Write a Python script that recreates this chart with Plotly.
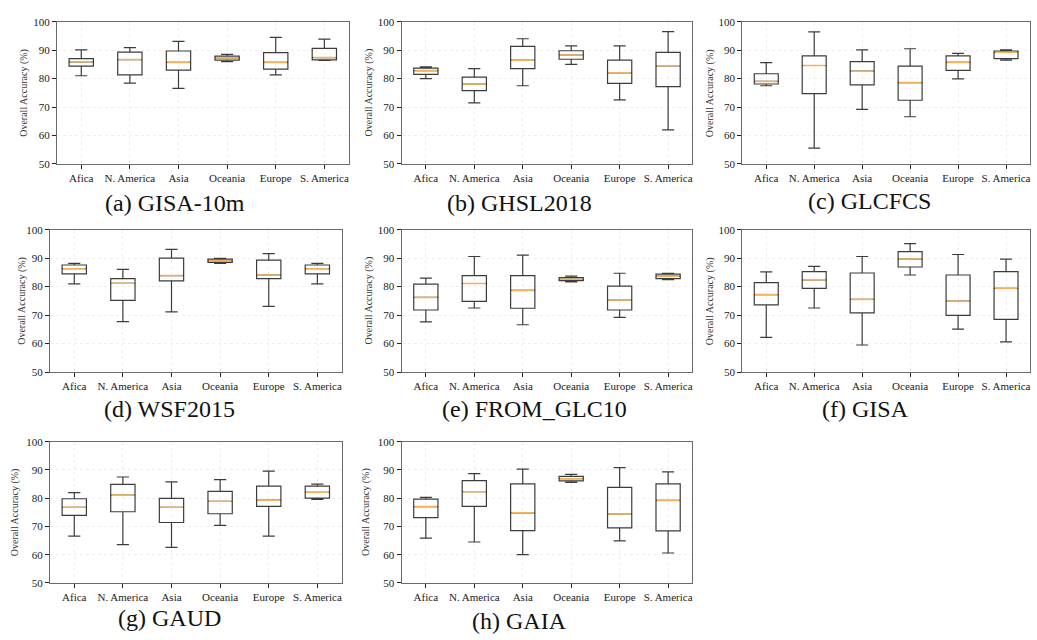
import plotly.graph_objects as go

CATEGORIES = ["Afica", "N. America", "Asia", "Oceania", "Europe", "S. America"]
Y_TICKS = [50, 60, 70, 80, 90, 100]
Y_LABEL = "Overall Accuracy (%)"

# (a) GISA-10m
A_LOW = [81.0, 78.4, 76.6, 86.0, 81.3, 86.4]
A_Q1 = [84.4, 81.3, 83.0, 86.5, 83.3, 86.6]
A_MED = [85.9, 86.7, 85.7, 87.3, 85.7, 87.4]
A_Q3 = [87.0, 89.3, 89.7, 87.9, 89.1, 90.6]
A_UP = [90.1, 90.9, 93.1, 88.5, 94.5, 93.9]

# (b) GHSL2018
B_LOW = [80.0, 71.5, 77.5, 85.0, 72.5, 62.0]
B_Q1 = [81.5, 75.8, 83.5, 86.8, 78.3, 77.2]
B_MED = [82.8, 78.1, 86.5, 88.3, 82.0, 84.5]
B_Q3 = [83.7, 80.5, 91.3, 89.8, 86.5, 89.2]
B_UP = [84.1, 83.5, 94.0, 91.5, 91.5, 96.5]

# (c) GLCFCS
C_LOW = [77.5, 55.6, 69.2, 66.6, 79.9, 86.5]
C_Q1 = [78.1, 74.7, 77.8, 72.4, 82.9, 87.0]
C_MED = [79.0, 84.6, 82.6, 78.6, 85.7, 89.3]
C_Q3 = [81.7, 88.0, 86.0, 84.4, 88.0, 89.7]
C_UP = [85.6, 96.4, 90.1, 90.5, 88.9, 90.1]

# (d) WSF2015
D_LOW = [81.0, 67.7, 71.1, 88.2, 73.1, 81.0]
D_Q1 = [84.5, 75.2, 82.0, 88.5, 82.8, 84.5]
D_MED = [86.3, 81.2, 83.9, 89.1, 84.1, 86.3]
D_Q3 = [87.6, 82.8, 90.0, 89.7, 89.3, 87.6]
D_UP = [88.2, 86.1, 93.1, 89.9, 91.6, 88.2]

# (e) FROM_GLC10
E_LOW = [67.6, 72.5, 66.6, 81.7, 69.2, 82.5]
E_Q1 = [71.8, 74.8, 72.4, 82.1, 71.8, 82.8]
E_MED = [76.2, 81.1, 78.7, 82.6, 75.3, 83.7]
E_Q3 = [80.9, 83.9, 83.9, 83.2, 80.2, 84.4]
E_UP = [83.0, 90.6, 91.1, 83.7, 84.7, 84.7]

# (f) GISA
F_LOW = [62.2, 72.5, 59.5, 84.1, 65.1, 60.6]
F_Q1 = [73.6, 79.4, 70.8, 86.9, 69.9, 68.5]
F_MED = [77.2, 82.4, 75.5, 89.7, 74.9, 79.4]
F_Q3 = [81.4, 85.3, 84.8, 92.3, 84.1, 85.3]
F_UP = [85.2, 87.1, 90.6, 95.1, 91.3, 89.7]

# (g) GAUD
G_LOW = [66.6, 63.6, 62.6, 70.4, 66.6, 79.6]
G_Q1 = [73.9, 75.2, 71.4, 74.5, 77.1, 80.0]
G_MED = [76.8, 81.1, 76.8, 78.9, 79.3, 82.1]
G_Q3 = [79.8, 84.9, 79.9, 82.4, 84.3, 84.3]
G_UP = [82.0, 87.5, 85.8, 86.6, 89.6, 85.0]

# (h) GAIA
H_LOW = [65.9, 64.5, 60.0, 85.6, 64.9, 60.6]
H_Q1 = [73.1, 77.1, 68.5, 86.1, 69.5, 68.4]
H_MED = [77.0, 82.3, 74.8, 86.9, 74.4, 79.2]
H_Q3 = [79.7, 86.2, 85.1, 87.7, 83.8, 85.1]
H_UP = [80.3, 88.7, 90.3, 88.4, 90.8, 89.3]

TITLES = ["(a) GISA-10m", "(b) GHSL2018", "(c) GLCFCS", "(d) WSF2015",
          "(e) FROM_GLC10", "(f) GISA", "(g) GAUD", "(h) GAIA"]

W, H = 1037, 640
FONT = "Liberation Serif, Times New Roman, DejaVu Serif, serif"
BOX_COLOR = "#3c3c3c"
MEDIAN_COLOR = "#f2b35a"
BOX_WIDTH = 0.5

data = [
    (A_LOW, A_Q1, A_MED, A_Q3, A_UP),
    (B_LOW, B_Q1, B_MED, B_Q3, B_UP),
    (C_LOW, C_Q1, C_MED, C_Q3, C_UP),
    (D_LOW, D_Q1, D_MED, D_Q3, D_UP),
    (E_LOW, E_Q1, E_MED, E_Q3, E_UP),
    (F_LOW, F_Q1, F_MED, F_Q3, F_UP),
    (G_LOW, G_Q1, G_MED, G_Q3, G_UP),
    (H_LOW, H_Q1, H_MED, H_Q3, H_UP),
]

# layout in pixels: (left, right, top, bottom), y-label x, title x, title y
geom = [
    ((57, 349, 16, 161), 24, 175, 201),
    ((402, 693, 16, 161), 369, 520, 201),
    ((743, 1031, 16, 161), 711, 870, 199),
    ((50, 342, 228, 373), 22, 170, 411),
    ((402, 693, 228, 373), 369, 535, 411),
    ((743, 1031, 228, 373), 711, 866, 411),
    ((50, 342, 444, 588), 15, 170, 624),
    ((402, 693, 444, 588), 367, 520, 627),
]

fig = go.Figure()
annotations = []
layout_axes = {}
xs = list(range(len(CATEGORIES)))

for k, ((low, q1, med, q3, up), ((l, r, t, b), ylx, tx, ty)) in enumerate(zip(data, geom)):
    n = k + 1
    xa = "x" if n == 1 else f"x{n}"
    ya = "y" if n == 1 else f"y{n}"
    fig.add_trace(go.Box(
        x=xs, q1=q1, median=med, q3=q3, lowerfence=low, upperfence=up,
        width=BOX_WIDTH, whiskerwidth=0.5,
        line=dict(color=BOX_COLOR, width=1.2),
        fillcolor="rgba(255,255,255,0)",
        boxpoints=False, showlegend=False,
        xaxis=xa, yaxis=ya,
    ))
    mx, my = [], []
    for i, m in enumerate(med):
        mx += [i - BOX_WIDTH / 2 + 0.02, i + BOX_WIDTH / 2 - 0.02, None]
        my += [m, m, None]
    fig.add_trace(go.Scatter(
        x=mx, y=my, mode="lines", line=dict(color=MEDIAN_COLOR, width=1.6),
        showlegend=False, hoverinfo="skip", xaxis=xa, yaxis=ya,
    ))
    xkey = "xaxis" if n == 1 else f"xaxis{n}"
    ykey = "yaxis" if n == 1 else f"yaxis{n}"
    layout_axes[xkey] = dict(
        domain=[l / W, r / W], anchor=ya, range=[-0.5, 5.5],
        tickmode="array", tickvals=xs, ticktext=CATEGORIES,
        showgrid=True, gridcolor="#efefef", griddash="dot", gridwidth=1,
        ticks="outside", ticklen=4, tickwidth=1.2, tickcolor="#222",
        showline=True, mirror=True, linecolor="#6a6a6a", linewidth=1.2,
        zeroline=False, tickfont=dict(family=FONT, size=11, color="#222"),
    )
    layout_axes[ykey] = dict(
        domain=[1 - b / H, 1 - t / H], anchor=xa, range=[50, 100],
        tickmode="array", tickvals=Y_TICKS,
        showgrid=True, gridcolor="#efefef", griddash="dot", gridwidth=1,
        ticks="outside", ticklen=4, tickwidth=1.2, tickcolor="#222",
        showline=True, mirror=True, linecolor="#6a6a6a", linewidth=1.2,
        zeroline=False, tickfont=dict(family=FONT, size=11, color="#222"),
    )
    annotations.append(dict(
        text=Y_LABEL, textangle=-90, x=ylx / W, y=1 - (t + b) / 2 / H,
        xref="paper", yref="paper", showarrow=False, xanchor="center", yanchor="middle",
        font=dict(family=FONT, size=10, color="#333"),
    ))
    annotations.append(dict(
        text=TITLES[k], x=tx / W, y=1 - ty / H,
        xref="paper", yref="paper", showarrow=False, xanchor="center", yanchor="middle",
        font=dict(family=FONT, size=24, color="#111"),
    ))

fig.update_layout(
    width=W, height=H, margin=dict(l=0, r=0, t=0, b=0),
    paper_bgcolor="white", plot_bgcolor="white",
    font=dict(family=FONT),
    annotations=annotations, **layout_axes,
)

fig.write_html(
    "out.html",
    config={"displayModeBar": False},
    post_script="document.body.style.margin='0px';",
)
